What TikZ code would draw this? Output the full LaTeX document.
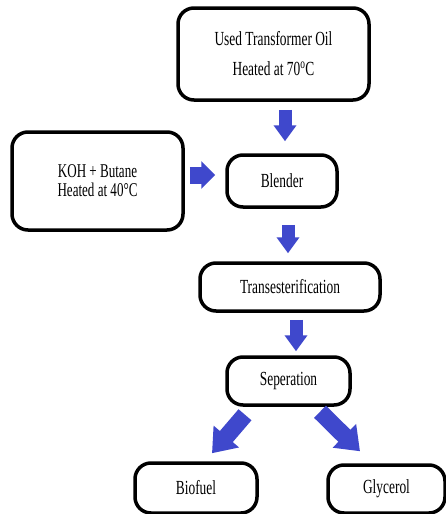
\documentclass[tikz,border=0pt]{standalone}
\usepackage{fontspec}
\setmainfont[FakeStretch=0.67]{Liberation Serif}
\usetikzlibrary{arrows.meta,positioning}
\definecolor{flowblue}{RGB}{63,72,204}

\begin{document}
\begin{tikzpicture}[x=1pt,y=-1pt,on grid,
    box/.style={draw,line width=3.5pt,rounded corners=16pt,align=center,font=\fontsize{20}{24}\selectfont},
    flow/.style={flowblue,line width=13pt,-{Triangle[length=16pt,width=22pt]}},
    wide/.style={line width=17pt,-{Triangle[length=22pt,width=32pt]}}]
                            % \draw[help lines] (0,0) grid (446,514);
                            \useasboundingbox[fill=white] (0,0) rectangle (446,514);

                            \node[box,minimum width=191pt,minimum height=92pt,font=\fontsize{20}{30}\selectfont] (oil) at (273.5,54) {Used Transformer Oil\\Heated at 70\textsuperscript{o}C};
                            \node[box,minimum width=110pt,minimum height=52pt] (blender) [below right=127pt and 8.5pt of oil] {Blender};
                            \node[box,minimum width=171pt,minimum height=98pt,font=\fontsize{19.5}{19}\selectfont] (koh) [left=184.5pt of blender] {KOH + Butane\\Heated at 40°C};
                            \node[box,minimum width=180pt,minimum height=48pt] (trans) [below right=106pt and 8pt of blender] {Transesterification};
                            \node[box,minimum width=123pt,minimum height=48pt] (sep) [below left=94pt and 1.5pt of trans] {Seperation};
                            \node[box,minimum width=122pt,minimum height=50pt] (biofuel) [below left=107pt and 92.5pt of sep] {Biofuel};
                            \node[box,minimum width=117pt,minimum height=48pt] (glycerol) [below right=108pt and 98pt of sep] {Glycerol};

                            \path[flow]
                                ([xshift=11.5pt,yshift=-8pt]oil.south) edge ([xshift=3pt,yshift=12pt]blender.north)
                                ([xshift=5pt,yshift=6pt]koh.east) edge [line width=17pt,-{Triangle[length=14pt,width=27pt]}] ([xshift=-10pt,yshift=6pt]blender.west)
                                ([xshift=6pt,yshift=-16pt]blender.south) edge ([xshift=-2pt,yshift=8pt]trans.north)
                                ([xshift=6pt,yshift=-7pt]trans.south) edge ([xshift=7.5pt,yshift=4pt]sep.north)
                                ([xshift=-43.5pt,yshift=-8pt]sep.south) edge [wide] ([xshift=16pt,yshift=8pt]biofuel.north)
                                ([xshift=31.5pt,yshift=-5pt]sep.south) edge [wide] ([xshift=-26.5pt,yshift=12pt]glycerol.north);
\end{tikzpicture}
\end{document}
